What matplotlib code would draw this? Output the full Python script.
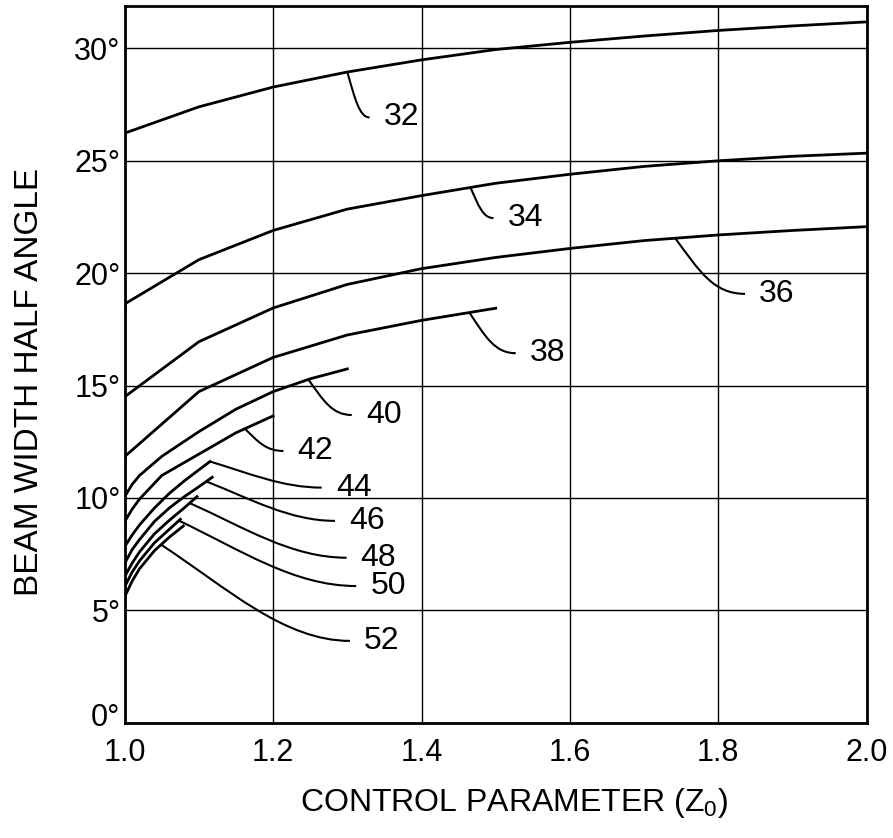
import numpy as np
import matplotlib
matplotlib.use("Agg")
import matplotlib.pyplot as plt
import matplotlib.transforms as mtransforms
from matplotlib.path import Path
from matplotlib.patches import PathPatch

plt.rcParams["font.family"] = ["Liberation Sans", "DejaVu Sans"]

# control parameter (Z0) and beam half angle (deg) for each curve
z_long = [1.0, 1.1, 1.2, 1.3, 1.4, 1.5, 1.6, 1.7, 1.8, 1.9, 2.0]
a_32 = [26.23, 27.4, 28.28, 28.95, 29.49, 29.95, 30.27, 30.55, 30.8, 31.0, 31.18]
a_34 = [18.63, 20.6, 21.9, 22.85, 23.45, 24.0, 24.4, 24.75, 25.0, 25.2, 25.34]
a_36 = [14.5, 16.95, 18.45, 19.5, 20.2, 20.7, 21.1, 21.45, 21.7, 21.9, 22.07]
z_38 = [1.0, 1.1, 1.2, 1.3, 1.4, 1.5]
a_38 = [11.84, 14.73, 16.25, 17.25, 17.9, 18.44]
z_40 = [1.0, 1.01, 1.02, 1.05, 1.1, 1.15, 1.2, 1.25, 1.3]
a_40 = [10.06, 10.6, 11.0, 11.85, 12.95, 13.95, 14.73, 15.3, 15.74]
z_42 = [1.0, 1.01, 1.02, 1.05, 1.1, 1.15, 1.2]
a_42 = [8.95, 9.5, 9.95, 11.0, 11.95, 12.9, 13.65]
z_44 = [1.0, 1.01, 1.02, 1.04, 1.06, 1.08, 1.1, 1.115]
a_44 = [7.83, 8.35, 8.8, 9.55, 10.2, 10.75, 11.25, 11.62]
z_46 = [1.0, 1.01, 1.02, 1.04, 1.06, 1.08, 1.1, 1.118]
a_46 = [7.09, 7.7, 8.15, 8.95, 9.55, 10.05, 10.5, 10.92]
z_48 = [1.0, 1.01, 1.02, 1.04, 1.06, 1.08, 1.0975]
a_48 = [6.5, 7.1, 7.6, 8.4, 9.0, 9.55, 10.06]
z_50 = [1.0, 1.01, 1.02, 1.04, 1.06, 1.075]
a_50 = [6.05, 6.7, 7.2, 8.0, 8.6, 9.05]
z_52 = [1.0, 1.01, 1.02, 1.04, 1.06, 1.079]
a_52 = [5.6, 6.3, 6.85, 7.65, 8.25, 8.75]

labels = ["32", "34", "36", "38", "40", "42", "44", "46", "48", "50", "52"]
zs = [z_long, z_long, z_long, z_38, z_40, z_42, z_44, z_46, z_48, z_50, z_52]
angles = [a_32, a_34, a_36, a_38, a_40, a_42, a_44, a_46, a_48, a_50, a_52]

# where each leader leaves its curve, and where it ends next to the label
leader_x = [1.30, 1.466, 1.742, 1.4645, 1.2475, 1.162, 1.115, 1.11, 1.0876, 1.073, 1.049]
leader_end = [(1.33, 26.93), (1.497, 22.45), (1.836, 19.08), (1.527, 16.44),
              (1.306, 13.69), (1.214, 12.09), (1.2655, 10.46), (1.2834, 8.98),
              (1.299, 7.34), (1.312, 6.08), (1.3036, 3.64)]

x_ticks = [1.0, 1.2, 1.4, 1.6, 1.8, 2.0]
y_ticks = [0, 5, 10, 15, 20, 25, 30]

fig = plt.figure(figsize=(8.93, 8.38), dpi=100)
ax = fig.add_axes([124.7 / 893, (838 - 722.7) / 838, 742 / 893, 717 / 838])

for lab, z, a, lx, (ex, ey) in zip(labels, zs, angles, leader_x, leader_end):
    ax.plot(z, a, color="black", lw=2.0, solid_joinstyle="round", zorder=3)
    x0 = lx
    y0 = np.interp(lx, z, a)
    dx = ex - x0
    dy = ey - y0
    if int(lab) <= 42:
        p1 = (x0 + 0.35 * dx, y0 + 0.6 * dy)
        p2 = (x0 + 0.55 * dx, ey)
    else:
        p1 = (x0 + 0.35 * dx, y0 + 0.45 * dy)
        p2 = (x0 + 0.65 * dx, ey)
    path = Path([(x0, y0), p1, p2, (ex, ey)],
                [Path.MOVETO, Path.CURVE4, Path.CURVE4, Path.CURVE4])
    ax.add_patch(PathPatch(path, fill=False, color="black", lw=1.5, zorder=3))
    ax.text(ex + 0.019, ey, lab, fontsize=23, ha="left", va="center", zorder=4)

ax.set_xlim(1.0, 2.0)
ax.set_ylim(0, 31.9)
ax.set_xticks(x_ticks)
ax.set_xticklabels([f"{v:.1f}" for v in x_ticks])
ax.set_yticks(y_ticks)
ax.set_yticklabels([f"{v}°" for v in y_ticks])
ax.tick_params(length=0, labelsize=22)
ax.tick_params(axis="y", pad=3)
ax.tick_params(axis="x", pad=11)
ax.grid(True, color="black", lw=1.0)
for s in ax.spines.values():
    s.set_linewidth(2.0)

# lift the 0° label a little so it clears the 1.0 label below it
lift = mtransforms.ScaledTranslation(0, 6 / 72, fig.dpi_scale_trans)
zero_label = ax.get_yticklabels()[0]
zero_label.set_transform(zero_label.get_transform() + lift)

fig.text(30 / 893, 1 - 382 / 838, "BEAM WIDTH HALF ANGLE", rotation=90,
         ha="center", va="center", fontsize=24)
fig.text(514 / 893, 1 - 803 / 838, r"CONTROL PARAMETER (Z$\mathregular{_0}$)",
         ha="center", va="center", fontsize=23)

fig.savefig("out.png", dpi=100)
